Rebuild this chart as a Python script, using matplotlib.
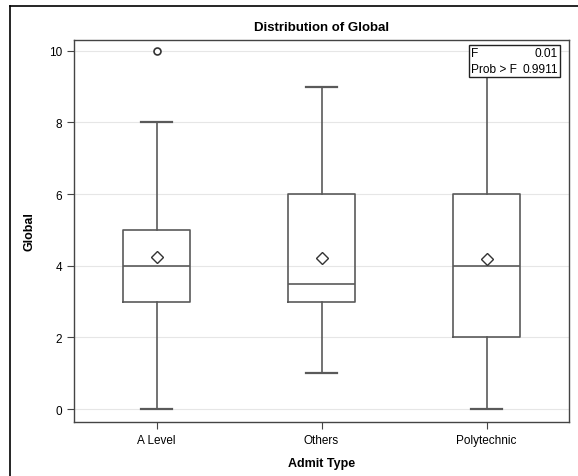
import matplotlib
matplotlib.use('Agg')
import matplotlib.pyplot as plt
from matplotlib.lines import Line2D
from matplotlib.patches import Rectangle

plt.rcParams['font.family'] = ['Liberation Sans', 'DejaVu Sans']

# box plot summary values
categories = ['A Level', 'Others', 'Polytechnic']
whisker_low = [0, 1, 0]
q1 = [3, 3, 2]
medians = [4, 3.5, 4]
q3 = [5, 6, 6]
whisker_high = [8, 9, 10]
means = [4.25, 4.22, 4.19]
outliers = [[10], [], []]

f_value = '0.01'
prob_f = '0.9911'

stats = []
for i, cat in enumerate(categories):
    stats.append(dict(label=cat, whislo=whisker_low[i], q1=q1[i], med=medians[i],
                      q3=q3[i], whishi=whisker_high[i], mean=means[i],
                      fliers=outliers[i]))

line_col = '#5a5a5a'
fig = plt.figure(figsize=(5.78, 4.77), dpi=100)
ax = fig.add_axes([74 / 578, 1 - 423 / 477, 495 / 578, 382 / 477])

ax.bxp(stats, positions=range(len(categories)), widths=0.41, showmeans=True,
       boxprops=dict(color=line_col, linewidth=1.2),
       whiskerprops=dict(color=line_col, linewidth=1.2),
       capprops=dict(color=line_col, linewidth=1.6),
       medianprops=dict(color=line_col, linewidth=1.2),
       meanprops=dict(marker='D', markerfacecolor='white', markeredgecolor='#333333',
                      markersize=6, markeredgewidth=1.0),
       flierprops=dict(marker='o', markerfacecolor='white', markeredgecolor='#333333',
                       markersize=5, markeredgewidth=1.2),
       capwidths=0.19, zorder=3)

ax.set_xlim(-0.5, 2.5)
ax.set_ylim(-0.36, 10.3)
ax.set_yticks([0, 2, 4, 6, 8, 10])
ax.set_xticks(range(len(categories)))
ax.set_xticklabels(categories)
ax.yaxis.grid(True, color='#e6e6e6', linewidth=0.8)
ax.set_axisbelow(True)
for sp in ax.spines.values():
    sp.set_color('#444444')
    sp.set_linewidth(1.0)
ax.tick_params(axis='both', labelsize=8.5, color='#444444', length=5)

ax.set_title('Distribution of Global', fontsize=9.5, fontweight='bold', pad=7)
ax.set_xlabel('Admit Type', fontsize=9, fontweight='bold', labelpad=8)
ax.set_ylabel('Global', fontsize=9, fontweight='bold', labelpad=10)

# F statistic inset
x0, x1, y0, y1 = 0.7976, 0.9818, 0.903, 0.987
ax.add_patch(Rectangle((x0, y0), x1 - x0, y1 - y0, transform=ax.transAxes,
                       facecolor='white', edgecolor='#222222', linewidth=1.0, zorder=5))
ym = (y0 + y1) / 2
for label, value, yy in [('F', f_value, (ym + y1) / 2), ('Prob > F', prob_f, (ym + y0) / 2)]:
    ax.text(x0 + 0.005, yy, label, transform=ax.transAxes, ha='left', va='center',
            fontsize=8.6, zorder=6)
    ax.text(x1 - 0.005, yy, value, transform=ax.transAxes, ha='right', va='center',
            fontsize=8.6, zorder=6)

# outer frame (cropped)
fig.add_artist(Line2D([10 / 578, 10 / 578], [0, 1 - 7 / 477], color='black', linewidth=1.2))
fig.add_artist(Line2D([10 / 578, 1], [1 - 7 / 477, 1 - 7 / 477], color='black', linewidth=1.2))

fig.savefig('out.png', dpi=100)
